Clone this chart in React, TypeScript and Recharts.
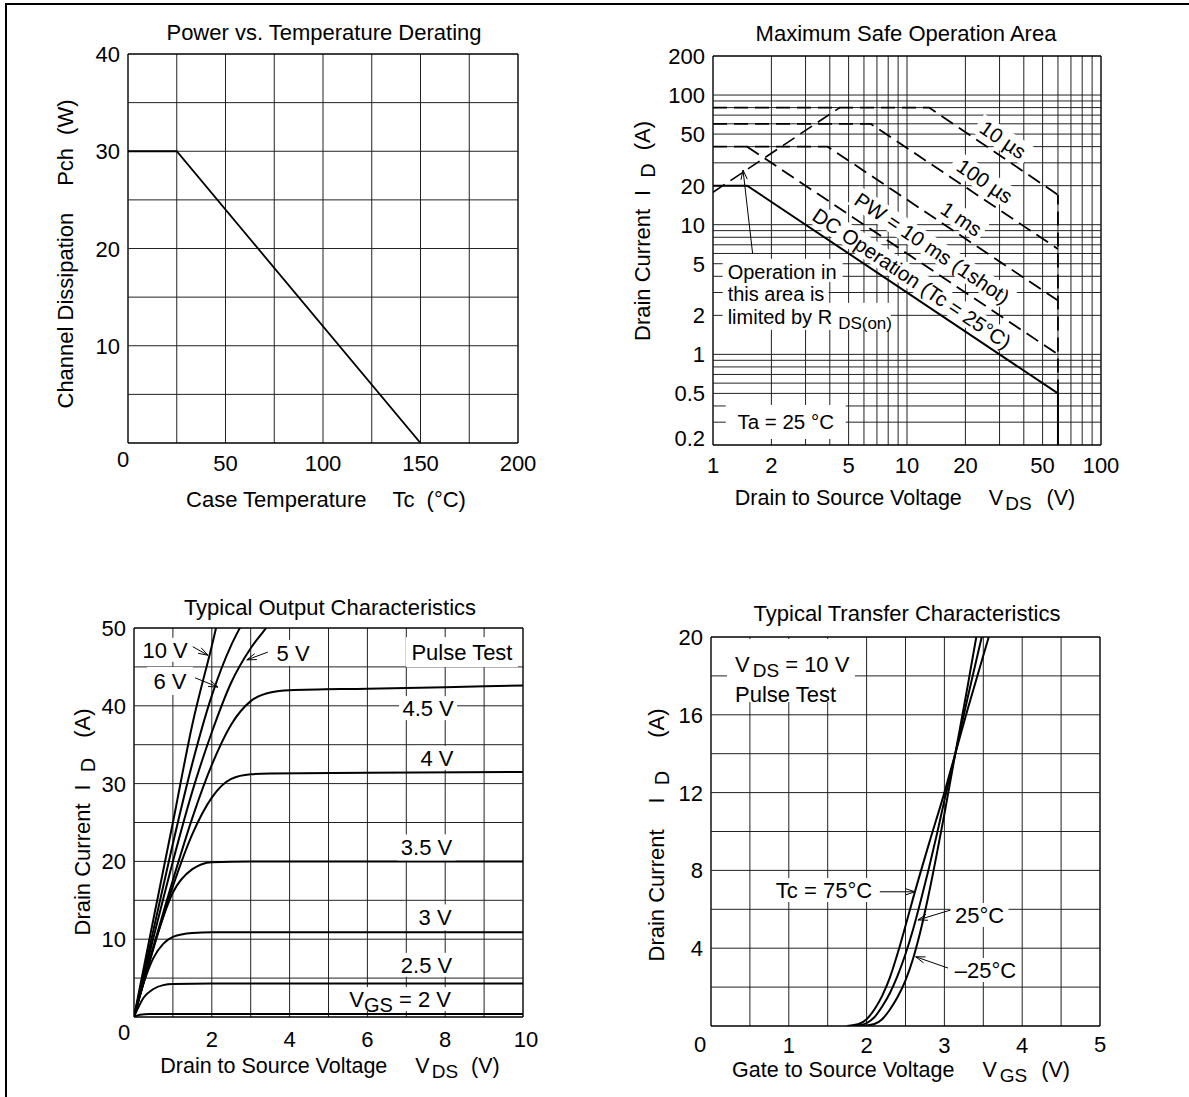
import React from 'react'
import { LineChart, Line, XAxis, YAxis, ReferenceLine, ReferenceDot } from 'recharts'

type Pt = [number, number]

const FONT = '"Liberation Sans", Arial, Helvetica, sans-serif'

// Power vs. Temperature Derating  (Tc °C -> Pch W)
const derateXTicks = [0, 50, 100, 150, 200]
const derateYTicks = [10, 20, 30, 40]
const derateXGrid = [0, 25, 50, 75, 100, 125, 150, 175, 200]
const derateYGrid = [0, 5, 10, 15, 20, 25, 30, 35, 40]
const derating: Pt[] = [[0, 30], [25, 30], [150, 0]]

// Maximum Safe Operation Area  (VDS V -> ID A, log-log)
const soaXTicks = [1, 2, 5, 10, 20, 50, 100]
const soaYTicks = [0.2, 0.5, 1, 2, 5, 10, 20, 50, 100, 200]
const soaXGrid = [1, 2, 3, 4, 5, 6, 7, 8, 9, 10, 20, 30, 40, 50, 60, 70, 80, 90, 100]
const soaYGrid = [0.2, 0.3, 0.4, 0.5, 0.6, 0.7, 0.8, 0.9, 1, 2, 3, 4, 5, 6, 7, 8, 9, 10, 20, 30, 40, 50, 60, 70, 80, 90, 100, 200]
const soaRdsOn: Pt[] = [[1, 17.8], [4.5, 80]]
const soa10us: Pt[] = [[1, 80], [13, 80], [60, 17]]
const soa100us: Pt[] = [[1, 60], [6.5, 60], [60, 6.5]]
const soa1ms: Pt[] = [[1, 40], [3.9, 40], [60, 2.6]]
const soa10ms: Pt[] = [[1.5, 40], [60, 1]]
const soaDc: Pt[] = [[1, 20], [1.5, 20], [60, 0.5]]
const soaVdssLow: Pt[] = [[60, 0.2], [60, 0.5]]
const soaVdssHigh: Pt[] = [[60, 0.5], [60, 17]]

// Typical Output Characteristics  (VDS V -> ID A)
const outXTicks = [0, 2, 4, 6, 8, 10]
const outYTicks = [10, 20, 30, 40, 50]
const outXGrid = [0, 1, 2, 3, 4, 5, 6, 7, 8, 9, 10]
const outYGrid = [0, 5, 10, 15, 20, 25, 30, 35, 40, 45, 50]
const out10V: Pt[] = [[0, 0], [0.5, 12.6], [1, 25], [1.5, 37.6], [2, 47.7], [2.3, 54]]
const out6V: Pt[] = [[0, 0], [0.5, 11.2], [1, 22.3], [1.5, 32.6], [2, 41.3], [2.5, 47.8], [2.72, 50], [3, 52.6]]
const out5V: Pt[] = [[0, 0], [0.5, 10.2], [1, 20], [1.5, 29], [2, 36.6], [2.5, 43], [3, 47.4], [3.4, 50], [3.8, 52.4]]
const out45V: Pt[] = [[0, 0], [0.5, 9], [1, 17.6], [1.5, 25.6], [2, 32.4], [2.5, 37.6], [3, 40.6], [3.5, 41.7], [4, 42], [6, 42.2], [8, 42.4], [10, 42.6]]
const out4V: Pt[] = [[0, 0], [0.5, 8.8], [1, 16.8], [1.5, 23.5], [2, 28.2], [2.5, 30.6], [3, 31.2], [3.5, 31.3], [6, 31.4], [10, 31.5]]
const out35V: Pt[] = [[0, 0], [0.5, 9], [1, 16], [1.5, 19], [2, 19.9], [3, 20], [10, 20]]
const out3V: Pt[] = [[0, 0], [0.25, 4.4], [0.5, 7.6], [0.75, 9.4], [1, 10.3], [1.5, 10.8], [2, 10.9], [10, 10.9]]
const out25V: Pt[] = [[0, 0], [0.25, 2.5], [0.5, 3.6], [0.75, 4.1], [1, 4.25], [2, 4.3], [10, 4.3]]
const out2V: Pt[] = [[0, 0], [0.15, 0.3], [0.4, 0.4], [10, 0.4]]

// Typical Transfer Characteristics  (VGS V -> ID A)
const trXTicks = [0, 1, 2, 3, 4, 5]
const trYTicks = [4, 8, 12, 16, 20]
const trXGrid = [0, 0.5, 1, 1.5, 2, 2.5, 3, 3.5, 4, 4.5, 5]
const trYGrid = [0, 2, 4, 6, 8, 10, 12, 14, 16, 18, 20]
const tr75: Pt[] = [[1.75, 0], [1.9, 0.1], [2.0, 0.35], [2.1, 0.85], [2.2, 1.55], [2.3, 2.5], [2.4, 3.75], [2.5, 5.15], [2.6, 6.6], [2.8, 9.35], [3.0, 12.0], [3.14, 14.0], [3.3, 16.3], [3.57, 20], [3.65, 21.1]]
const tr25: Pt[] = [[1.85, 0], [2.0, 0.15], [2.1, 0.45], [2.2, 1.0], [2.3, 1.7], [2.4, 2.6], [2.5, 3.7], [2.6, 5.0], [2.7, 6.5], [2.8, 8.1], [2.9, 9.8], [3.0, 11.6], [3.14, 14.0], [3.3, 16.9], [3.48, 20], [3.55, 21.2]]
const trM25: Pt[] = [[1.95, 0], [2.1, 0.1], [2.2, 0.35], [2.3, 0.85], [2.4, 1.5], [2.5, 2.35], [2.6, 3.5], [2.7, 5.0], [2.8, 6.8], [2.9, 8.8], [3.0, 10.9], [3.14, 14.0], [3.3, 17.5], [3.41, 20], [3.5, 21.9]]

const pts = (a: Pt[]) => a.map(([x, y]) => ({ x, y }))

function gridX(vals: number[]) {
  return vals.map((v, i) => {
    const edge = i === 0 || i === vals.length - 1
    return <ReferenceLine key={'gx' + v} x={v} stroke={edge ? '#000' : '#222'} strokeWidth={edge ? 1.4 : 1} />
  })
}
function gridY(vals: number[]) {
  return vals.map((v, i) => {
    const edge = i === 0 || i === vals.length - 1
    return <ReferenceLine key={'gy' + v} y={v} stroke={edge ? '#000' : '#222'} strokeWidth={edge ? 1.4 : 1} />
  })
}

const xTick = (dy: number, shift: Record<string, Pt> = {}) => (p: any) => {
  const v = String(p.payload.value)
  const [sx, sy] = shift[v] || [0, 0]
  return (
    <text x={p.x + sx} y={p.y + dy + sy} textAnchor="middle" fontSize={22} fontFamily={FONT} fill="#000">{v}</text>
  )
}
const yTick = (shift: Record<string, number> = {}) => (p: any) => {
  const v = String(p.payload.value)
  return (
    <text x={p.x} y={p.y + 8 + (shift[v] || 0)} textAnchor="end" fontSize={22} fontFamily={FONT} fill="#000">{v}</text>
  )
}

function Tag({ cx = 0, cy = 0, w, h, angle = 0, size = 22, children }: any) {
  return (
    <g transform={`translate(${cx},${cy}) rotate(${angle})`}>
      <rect x={-w / 2} y={-h / 2} width={w} height={h} fill="#fff" />
      <text x={0} y={size * 0.36} textAnchor="middle" fontSize={size} fontFamily={FONT} fill="#000">{children}</text>
    </g>
  )
}

function Arrow({ x1 = 0, y1 = 0, x2 = 0, y2 = 0 }: any) {
  const a = Math.atan2(y2 - y1, x2 - x1)
  const L = 10
  const s = 0.32
  const ax = x2 - L * Math.cos(a - s)
  const ay = y2 - L * Math.sin(a - s)
  const bx = x2 - L * Math.cos(a + s)
  const by = y2 - L * Math.sin(a + s)
  return (
    <g stroke="#000" strokeWidth={1} fill="none">
      <line x1={x1} y1={y1} x2={x2} y2={y2} />
      <path d={`M${ax},${ay}L${x2},${y2}L${bx},${by}`} />
    </g>
  )
}

function RdsNote({ cx = 0, cy = 0 }: any) {
  return (
    <g fontFamily={FONT} fontSize={20} fill="#000">
      <rect x={cx - 5} y={cy - 13} width={120} height={23} fill="#fff" />
      <rect x={cx - 5} y={cy + 9} width={106} height={23} fill="#fff" />
      <rect x={cx - 5} y={cy + 31} width={168} height={27} fill="#fff" />
      <text x={cx} y={cy + 7}>Operation in</text>
      <text x={cx} y={cy + 29.5}>this area is</text>
      <text x={cx} y={cy + 52}>limited by R<tspan dx={6} dy={5} fontSize={17}>DS(on)</tspan></text>
    </g>
  )
}

function VdsNote({ cx = 0, cy = 0 }: any) {
  return (
    <g fontFamily={FONT} fontSize={22} fill="#000">
      <rect x={cx - 64} y={cy - 32} width={128} height={63} fill="#fff" />
      <text x={cx - 56} y={cy + 1}>V<tspan dx={3} dy={5} fontSize={19}>DS</tspan><tspan dy={-5}> = 10 V</tspan></text>
      <text x={cx - 56} y={cy + 31}>Pulse Test</text>
    </g>
  )
}

const lineProps = { dataKey: 'y', dot: false, activeDot: false, isAnimationActive: false, stroke: '#000' } as const

function DeratingChart() {
  return (
    <LineChart width={560} height={520} margin={{ top: 54, right: 42, bottom: 37, left: 0 }}>
      <XAxis type="number" dataKey="x" domain={[0, 200]} ticks={derateXTicks} interval={0} allowDataOverflow axisLine={false} tickLine={false} height={40} tick={xTick(20.4, { '0': [-5, -4] })} />
      <YAxis type="number" domain={[0, 40]} ticks={derateYTicks} interval={0} allowDataOverflow axisLine={false} tickLine={false} width={128} tick={yTick()} />
      {gridX(derateXGrid)}
      {gridY(derateYGrid)}
      <Line {...lineProps} data={pts(derating)} type="linear" strokeWidth={1.8} />
    </LineChart>
  )
}

function SoaChart() {
  const dash = '14 7'
  return (
    <LineChart width={540} height={500} margin={{ top: 56, right: 39, bottom: 15, left: 0 }}>
      <XAxis type="number" dataKey="x" scale="log" domain={[1, 100]} ticks={soaXTicks} interval={0} allowDataOverflow axisLine={false} tickLine={false} height={40} tick={xTick(20)} />
      <YAxis type="number" scale="log" domain={[0.2, 200]} ticks={soaYTicks} interval={0} allowDataOverflow axisLine={false} tickLine={false} width={113} tick={yTick({ '0.2': -7 })} />
      {gridX(soaXGrid)}
      {gridY(soaYGrid)}
      <Line {...lineProps} data={pts(soaRdsOn)} type="linear" strokeWidth={1.6} strokeDasharray={dash} />
      <Line {...lineProps} data={pts(soa10us)} type="linear" strokeWidth={1.8} strokeDasharray={dash} />
      <Line {...lineProps} data={pts(soa100us)} type="linear" strokeWidth={1.8} strokeDasharray={dash} />
      <Line {...lineProps} data={pts(soa1ms)} type="linear" strokeWidth={1.8} strokeDasharray={dash} />
      <Line {...lineProps} data={pts(soa10ms)} type="linear" strokeWidth={1.8} strokeDasharray={dash} />
      <Line {...lineProps} data={pts(soaDc)} type="linear" strokeWidth={2} />
      <Line {...lineProps} data={pts(soaVdssLow)} type="linear" strokeWidth={2} />
      <Line {...lineProps} data={pts(soaVdssHigh)} type="linear" strokeWidth={1.8} strokeDasharray={dash} />
      <ReferenceLine segment={[{ x: 1.6, y: 6.0 }, { x: 1.428, y: 26.4 }]} shape={<Arrow />} />
      <ReferenceDot x={31.3} y={45.3} r={0} shape={<Tag w={60} h={22} angle={34} size={20.5}>10 µs</Tag>} />
      <ReferenceDot x={25.2} y={21.7} r={0} shape={<Tag w={74} h={22} angle={34} size={20.5}>100 µs</Tag>} />
      <ReferenceDot x={19.1} y={11.1} r={0} shape={<Tag w={52} h={22} angle={34} size={20.5}>1 ms</Tag>} />
      <ReferenceDot x={13.5} y={6.6} r={0} shape={<Tag w={190} h={22} angle={34} size={20.5}>PW = 10 ms (1shot)</Tag>} />
      <ReferenceDot x={10.6} y={3.85} r={0} shape={<Tag w={238} h={22} angle={34} size={20.5}>DC Operation (Tc = 25°C)</Tag>} />
      <ReferenceDot x={1.19} y={4.33} r={0} shape={<RdsNote />} />
      <ReferenceDot x={2.37} y={0.301} r={0} shape={<Tag w={120} h={34} size={20.5}>Ta = 25 °C</Tag>} />
    </LineChart>
  )
}

function OutputChart() {
  const sw = 2
  return (
    <LineChart width={560} height={520} margin={{ top: 68, right: 37, bottom: 23, left: 0 }}>
      <XAxis type="number" dataKey="x" domain={[0, 10]} ticks={outXTicks} interval={0} allowDataOverflow axisLine={false} tickLine={false} height={40} tick={xTick(21.7, { '0': [-10, -7], '10': [3, 0] })} />
      <YAxis type="number" domain={[0, 50]} ticks={outYTicks} interval={0} allowDataOverflow axisLine={false} tickLine={false} width={134} tick={yTick()} />
      {gridX(outXGrid)}
      {gridY(outYGrid)}
      <Line {...lineProps} data={pts(out10V)} type="monotone" strokeWidth={sw} />
      <Line {...lineProps} data={pts(out6V)} type="monotone" strokeWidth={sw} />
      <Line {...lineProps} data={pts(out5V)} type="monotone" strokeWidth={sw} />
      <Line {...lineProps} data={pts(out45V)} type="monotone" strokeWidth={sw} />
      <Line {...lineProps} data={pts(out4V)} type="monotone" strokeWidth={sw} />
      <Line {...lineProps} data={pts(out35V)} type="monotone" strokeWidth={sw} />
      <Line {...lineProps} data={pts(out3V)} type="monotone" strokeWidth={sw} />
      <Line {...lineProps} data={pts(out25V)} type="monotone" strokeWidth={sw} />
      <Line {...lineProps} data={pts(out2V)} type="monotone" strokeWidth={sw} />
      <ReferenceLine segment={[{ x: 1.51, y: 47.6 }, { x: 1.9, y: 46.5 }]} shape={<Arrow />} />
      <ReferenceLine segment={[{ x: 1.57, y: 43.6 }, { x: 2.16, y: 42.4 }]} shape={<Arrow />} />
      <ReferenceLine segment={[{ x: 3.44, y: 46.9 }, { x: 2.9, y: 45.9 }]} shape={<Arrow />} />
      <ReferenceDot x={0.8} y={47.2} r={0} shape={<Tag w={50} h={24}>10 V</Tag>} />
      <ReferenceDot x={0.925} y={43.2} r={0} shape={<Tag w={46} h={28}>6 V</Tag>} />
      <ReferenceDot x={4.09} y={46.8} r={0} shape={<Tag w={42} h={26}>5 V</Tag>} />
      <ReferenceDot x={8.43} y={46.9} r={0} shape={<Tag w={112} h={30}>Pulse Test</Tag>} />
      <ReferenceDot x={7.56} y={39.7} r={0} shape={<Tag w={58} h={24}>4.5 V</Tag>} />
      <ReferenceDot x={7.79} y={33.3} r={0} shape={<Tag w={44} h={24}>4 V</Tag>} />
      <ReferenceDot x={7.52} y={21.8} r={0} shape={<Tag w={58} h={26}>3.5 V</Tag>} />
      <ReferenceDot x={7.74} y={12.8} r={0} shape={<Tag w={44} h={26}>3 V</Tag>} />
      <ReferenceDot x={7.52} y={6.7} r={0} shape={<Tag w={58} h={24}>2.5 V</Tag>} />
      <ReferenceDot x={6.84} y={2.3} r={0} shape={
        <Tag w={108} h={24}>V<tspan dy={5} fontSize={20}>GS</tspan><tspan dy={-5}> = 2 V</tspan></Tag>
      } />
    </LineChart>
  )
}

function TransferChart() {
  const sw = 2
  return (
    <LineChart width={540} height={537} margin={{ top: 77, right: 40, bottom: 31, left: 0 }}>
      <XAxis type="number" dataKey="x" domain={[0, 5]} ticks={trXTicks} interval={0} allowDataOverflow axisLine={false} tickLine={false} height={40} tick={xTick(19, { '0': [-11, -1], '5': [0, -1] })} />
      <YAxis type="number" domain={[0, 20]} ticks={trYTicks} interval={0} allowDataOverflow axisLine={false} tickLine={false} width={111} tick={yTick()} />
      {gridX(trXGrid)}
      {gridY(trYGrid)}
      <Line {...lineProps} data={pts(tr75)} type="monotone" strokeWidth={sw} />
      <Line {...lineProps} data={pts(tr25)} type="monotone" strokeWidth={sw} />
      <Line {...lineProps} data={pts(trM25)} type="monotone" strokeWidth={sw} />
      <ReferenceLine segment={[{ x: 2.17, y: 6.9 }, { x: 2.622, y: 6.9 }]} shape={<Arrow />} />
      <ReferenceLine segment={[{ x: 3.094, y: 5.98 }, { x: 2.66, y: 5.45 }]} shape={<Arrow />} />
      <ReferenceLine segment={[{ x: 3.046, y: 2.98 }, { x: 2.63, y: 3.56 }]} shape={<Arrow />} />
      <ReferenceDot x={1.028} y={18.25} r={0} shape={<VdsNote />} />
      <ReferenceDot x={1.452} y={6.99} r={0} shape={<Tag w={110} h={24}>Tc = 75°C</Tag>} />
      <ReferenceDot x={3.451} y={5.71} r={0} shape={<Tag w={58} h={24}>25°C</Tag>} />
      <ReferenceDot x={3.528} y={2.88} r={0} shape={<Tag w={70} h={24}>–25°C</Tag>} />
    </LineChart>
  )
}

function Texts() {
  const t = { fontFamily: FONT, fill: '#000' }
  return (
    <svg width={1189} height={1097} style={{ position: 'absolute', left: 0, top: 0, pointerEvents: 'none' }}>
      <rect x={5} y={3} width={1184} height={2} fill="#000" />
      <rect x={5} y={3} width={2} height={1094} fill="#000" />

      <g {...t} fontSize={22} textAnchor="middle">
        <text x={324} y={40}>Power vs. Temperature Derating</text>
        <text x={906} y={41}>Maximum Safe Operation Area</text>
        <text x={330} y={615}>Typical Output Characteristics</text>
        <text x={907} y={621}>Typical Transfer Characteristics</text>
      </g>

      <g {...t} fontSize={21.5} textAnchor="middle">
        <text x={326} y={507} fontSize={22}>Case Temperature<tspan dx={26}>Tc</tspan><tspan dx={12}>(°C)</tspan></text>
        <text x={905} y={505}>Drain to Source Voltage<tspan dx={27}>V</tspan><tspan dx={2} dy={5} fontSize={19}>DS</tspan><tspan dx={15} dy={-5}>(V)</tspan></text>
        <text x={330} y={1073}>Drain to Source Voltage<tspan dx={28}>V</tspan><tspan dx={2} dy={5} fontSize={19}>DS</tspan><tspan dx={13} dy={-5}>(V)</tspan></text>
        <text x={901} y={1077}>Gate to Source Voltage<tspan dx={28}>V</tspan><tspan dx={3} dy={5} fontSize={19}>GS</tspan><tspan dx={14} dy={-5}>(V)</tspan></text>

        <text transform="translate(73,254) rotate(-90)" fontSize={22}>Channel Dissipation<tspan dx={27}>Pch</tspan><tspan dx={13}>(W)</tspan></text>
        <text transform="translate(650,231) rotate(-90)" fontSize={22}>Drain Current<tspan dx={13}>I</tspan><tspan dx={12} dy={5} fontSize={20}>D</tspan><tspan dx={13} dy={-5}>(A)</tspan></text>
        <text transform="translate(90,822) rotate(-90)" fontSize={22}>Drain Current<tspan dx={13}>I</tspan><tspan dx={12} dy={5} fontSize={20}>D</tspan><tspan dx={20} dy={-5}>(A)</tspan></text>
        <text transform="translate(664,835) rotate(-90)" fontSize={22}>Drain Current<tspan dx={26}>I</tspan><tspan dx={12} dy={5} fontSize={20}>D</tspan><tspan dx={33} dy={-5}>(A)</tspan></text>
      </g>
    </svg>
  )
}

export default function App() {
  return (
    <div style={{ position: 'absolute', left: 0, top: 0, width: 1189, height: 1097, background: '#fff', overflow: 'hidden', fontFamily: FONT }}>
      <div style={{ position: 'absolute', left: 0, top: 0 }}><DeratingChart /></div>
      <div style={{ position: 'absolute', left: 600, top: 0 }}><SoaChart /></div>
      <div style={{ position: 'absolute', left: 0, top: 560 }}><OutputChart /></div>
      <div style={{ position: 'absolute', left: 600, top: 560 }}><TransferChart /></div>
      <Texts />
    </div>
  )
}
